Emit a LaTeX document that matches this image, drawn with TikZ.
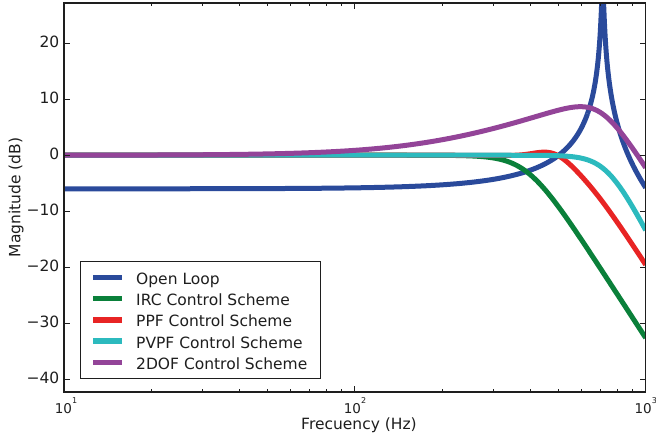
\documentclass[tikz,border=0pt]{standalone}
\usepackage{fontspec}
\setmainfont{DejaVu Sans}
\usepackage{pgfplots}
\pgfplotsset{compat=1.18}
\definecolor{cblue}{RGB}{42,74,155}
\definecolor{cgreen}{RGB}{10,128,58}
\definecolor{cred}{RGB}{232,36,36}
\definecolor{ccyan}{RGB}{44,186,190}
\definecolor{cpurple}{RGB}{147,68,152}
\definecolor{ink}{RGB}{30,30,30}
\newcommand\bigfont{\fontsize{15.5}{18}\selectfont}
\newcommand\tickfont{\fontsize{13.5}{16}\selectfont}
\newcommand\expfont{\fontsize{8}{8}\selectfont}
\tikzset{
  curve/.style={line width=5pt, line join=round},
  legline/.style={line width=5.5pt},
  legtext/.style={anchor=base west, inner sep=0pt, text=ink, font=\bigfont},
  ylab/.style={anchor=base east, inner sep=0pt, text=ink, font=\bigfont},
  xlab/.style={anchor=base, inner sep=0pt, text=ink, font=\tickfont},
}
\begin{document}
\begin{tikzpicture}[x=1pt,y=1pt]
\useasboundingbox (0,0) rectangle (656,441);
\begin{axis}[at={(64pt,49pt)}, anchor=south west, scale only axis,
  width=581.7pt, height=389pt,
  xmode=log, xmin=10, xmax=1000, ymin=-42.3, ymax=27.2,
  xtick={10,100,1000}, ytick={-40,-30,...,20},
  xticklabels={}, yticklabels={},
  ticklabel style={text opacity=0, opacity=0},
  tick align=inside, xtick pos=both, ytick pos=both,
  major tick length=6pt, minor tick length=3pt,
  tick style={ink, line width=0.9pt},
  axis line style={ink, line width=1.5pt},
  axis on top,
  samples=400, domain=1:3]
\addplot[curve, cblue, domain=1:2.8, samples=300] ({10^x},{-6-10*log10((1-(10^(x-2.852))^2)^2+(0.016*10^(x-2.852))^2)});
\addplot[curve, cblue, domain=2.8:2.91, samples=600] ({10^x},{-6-10*log10((1-(10^(x-2.852))^2)^2+(0.016*10^(x-2.852))^2)});
\addplot[curve, cblue, domain=2.91:3, samples=100] ({10^x},{-6-10*log10((1-(10^(x-2.852))^2)^2+(0.016*10^(x-2.852))^2)});
\addplot[curve, cgreen] ({10^x},{-10*log10(1+10^(8*(x-2.592)))});
\addplot[curve, cred] ({10^x},{-10*log10(1+10^(8*(x-2.756)))+1.3*exp(-((x-2.68)/0.08)^2)});
\addplot[curve, ccyan] ({10^x},{-10*log10(1+10^(10*(x-2.868)))});
\addplot[curve, cpurple] ({10^x},{10*log10(1+(10^(x-2.325))^2)-10*log10(1+10^(10*(x-2.842)))});
\end{axis}
% y tick labels
\foreach \v/\t in {-40/−40,-30/−30,-20/−20,-10/−10,0/0,10/10,20/20}
  \node[ylab] at (59.5,{285.8+5.595*\v-4.4}) {\t};
% x tick labels
\node[xlab] at (66,27.7) {10\raisebox{9.5pt}{\expfont 1}};
\node[xlab] at (355,27.7) {10\raisebox{9.5pt}{\expfont 2}};
\node[xlab] at (645.7,27.7) {10\raisebox{9.5pt}{\expfont 3}};
% axis titles
\node[anchor=base, inner sep=0pt, text=ink, font=\bigfont] (xt) at (359,11) {Frecuency (Hz)};
\node[anchor=base, inner sep=0pt, text=ink, font=\bigfont, rotate=90] (yt) at (20.5,243.5) {Magnitude (dB)};
% legend
\draw[ink, line width=0.9pt, fill=white] (80.7,63) rectangle (320,180);
\draw[legline, cblue] (93,163.7) -- (122,163.7);
\draw[legline, cgreen] (93,142.5) -- (122,142.5);
\draw[legline, cred] (93,121.2) -- (122,121.2);
\draw[legline, ccyan] (93,100) -- (122,100);
\draw[legline, cpurple] (93,78.7) -- (122,78.7);
\node[legtext] (l1) at (136,156.5) {Open Loop};
\node[legtext] (l2) at (136,135.3) {IRC Control Scheme};
\node[legtext] (l3) at (136,114) {PPF Control Scheme};
\node[legtext] (l4) at (136,92.8) {PVPF Control Scheme};
\node[legtext] (l5) at (136,71.5) {2DOF Control Scheme};
\end{tikzpicture}
\end{document}
